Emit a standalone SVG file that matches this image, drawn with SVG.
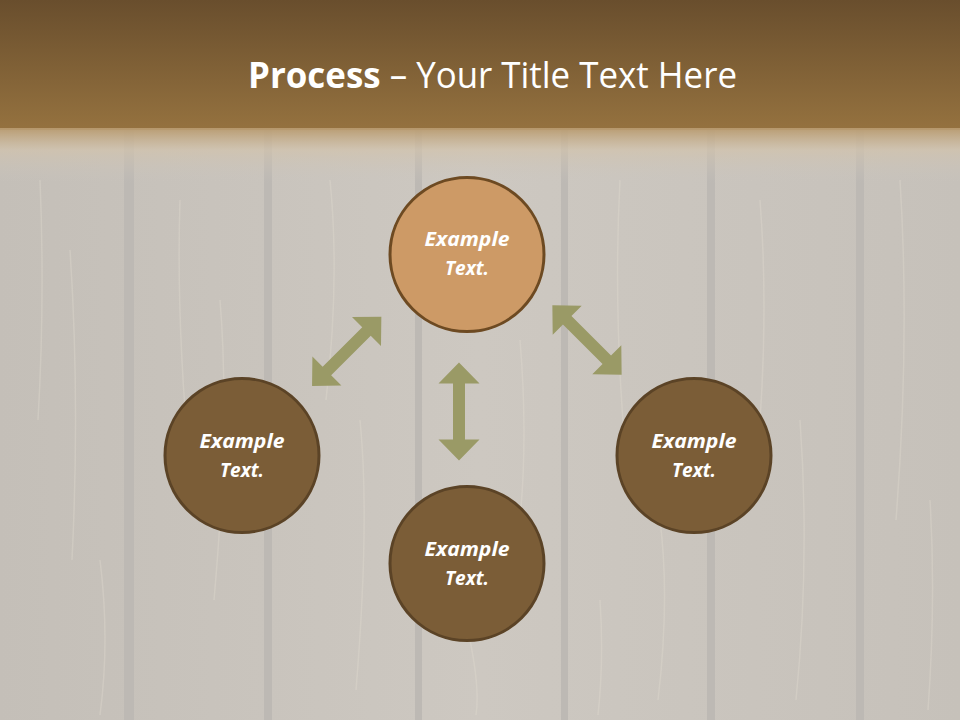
<svg xmlns="http://www.w3.org/2000/svg" width="960" height="720" viewBox="0 0 960 720">
<defs>
<linearGradient id="hdr" x1="0" y1="0" x2="0" y2="1">
<stop offset="0" stop-color="#694e2d"/>
<stop offset="1" stop-color="#95723f"/>
</linearGradient>
<linearGradient id="fade" x1="0" y1="0" x2="0" y2="1">
<stop offset="0" stop-color="#b89a6e" stop-opacity="0.95"/>
<stop offset="0.4" stop-color="#d2c3ac" stop-opacity="0.7"/>
<stop offset="1" stop-color="#cbc6bf" stop-opacity="0"/>
</linearGradient>
<linearGradient id="plank" x1="0" y1="0" x2="1" y2="0">
<stop offset="0" stop-color="#c4bfb8"/>
<stop offset="0.5" stop-color="#cdc8c1"/>
<stop offset="1" stop-color="#c6c1ba"/>
</linearGradient>
<polygon id="dbl" points="0,-49 20.5,-28 6,-28 6,28 20.5,28 0,49 -20.5,28 -6,28 -6,-28 -20.5,-28"/>
</defs>
<style>
.grain{stroke:#e2dcd2;stroke-width:1.5;opacity:0.35;fill:none}
.seam{fill:#bdb9b4}
.arrow{fill:#9a9a66}
.nodeL{fill:#cd9a66;stroke:#6d4a22;stroke-width:3}
.nodeD{fill:#7b5d37;stroke:#5b4326;stroke-width:3}
.lbl{font-family:"Open Sans","Liberation Sans",sans-serif;font-size:19px;font-weight:bold;font-style:italic;fill:#ffffff;text-anchor:middle}
.title{font-family:"Open Sans","Liberation Sans",sans-serif;font-size:36px;fill:#ffffff}
</style>
<g id="background">
<rect x="0" y="0" width="960" height="720" fill="url(#plank)"/>
<rect class="seam" x="124" y="130" width="10" height="590"/>
<rect class="seam" x="264" y="130" width="8" height="590"/>
<rect class="seam" x="415" y="130" width="7" height="590"/>
<rect class="seam" x="561" y="130" width="7" height="590"/>
<rect class="seam" x="707" y="130" width="8" height="590"/>
<rect class="seam" x="856" y="130" width="8" height="590"/>
<path class="grain" d="M40 180 Q45 300 38 420 M70 250 Q80 400 72 560 M180 200 Q176 320 190 470 M220 300 Q230 420 214 600 M330 180 Q340 280 326 400 M360 420 Q370 520 356 690 M470 640 Q480 690 476 715 M520 340 Q530 460 515 560 M620 180 Q612 330 630 500 M660 520 Q670 600 658 700 M760 200 Q770 330 755 480 M800 420 Q810 560 796 700 M900 180 Q910 340 896 520 M930 500 Q936 600 928 710 M100 560 Q110 640 100 715 M600 600 Q604 660 598 715"/>
<rect x="0" y="0" width="960" height="130" fill="url(#hdr)"/>
<rect x="0" y="128" width="960" height="55" fill="url(#fade)"/>
</g>
<g id="title">
<text class="title" x="248" y="88" textLength="489" lengthAdjust="spacingAndGlyphs"><tspan font-weight="bold">Process</tspan> – Your Title Text Here</text>
</g>
<g id="connectors">
<use href="#dbl" class="arrow" transform="translate(346.7,351.3) rotate(45)"/>
<use href="#dbl" class="arrow" transform="translate(459,411.5)"/>
<use href="#dbl" class="arrow" transform="translate(587,340) rotate(-45)"/>
</g>
<g id="node-top">
<circle class="nodeL" cx="467" cy="254.5" r="77"/>
<text class="lbl" x="467" y="246" textLength="85" lengthAdjust="spacingAndGlyphs">Example</text>
<text class="lbl" x="467" y="274.5" textLength="44" lengthAdjust="spacingAndGlyphs">Text.</text>
</g>
<g id="node-left">
<circle class="nodeD" cx="242" cy="455.5" r="77"/>
<text class="lbl" x="242" y="447.5" textLength="85" lengthAdjust="spacingAndGlyphs">Example</text>
<text class="lbl" x="242" y="476.5" textLength="44" lengthAdjust="spacingAndGlyphs">Text.</text>
</g>
<g id="node-right">
<circle class="nodeD" cx="694" cy="455.5" r="77"/>
<text class="lbl" x="694" y="447.5" textLength="85" lengthAdjust="spacingAndGlyphs">Example</text>
<text class="lbl" x="694" y="476.5" textLength="44" lengthAdjust="spacingAndGlyphs">Text.</text>
</g>
<g id="node-bottom">
<circle class="nodeD" cx="467" cy="563.5" r="77"/>
<text class="lbl" x="467" y="555.5" textLength="85" lengthAdjust="spacingAndGlyphs">Example</text>
<text class="lbl" x="467" y="584.5" textLength="44" lengthAdjust="spacingAndGlyphs">Text.</text>
</g>
</svg>
